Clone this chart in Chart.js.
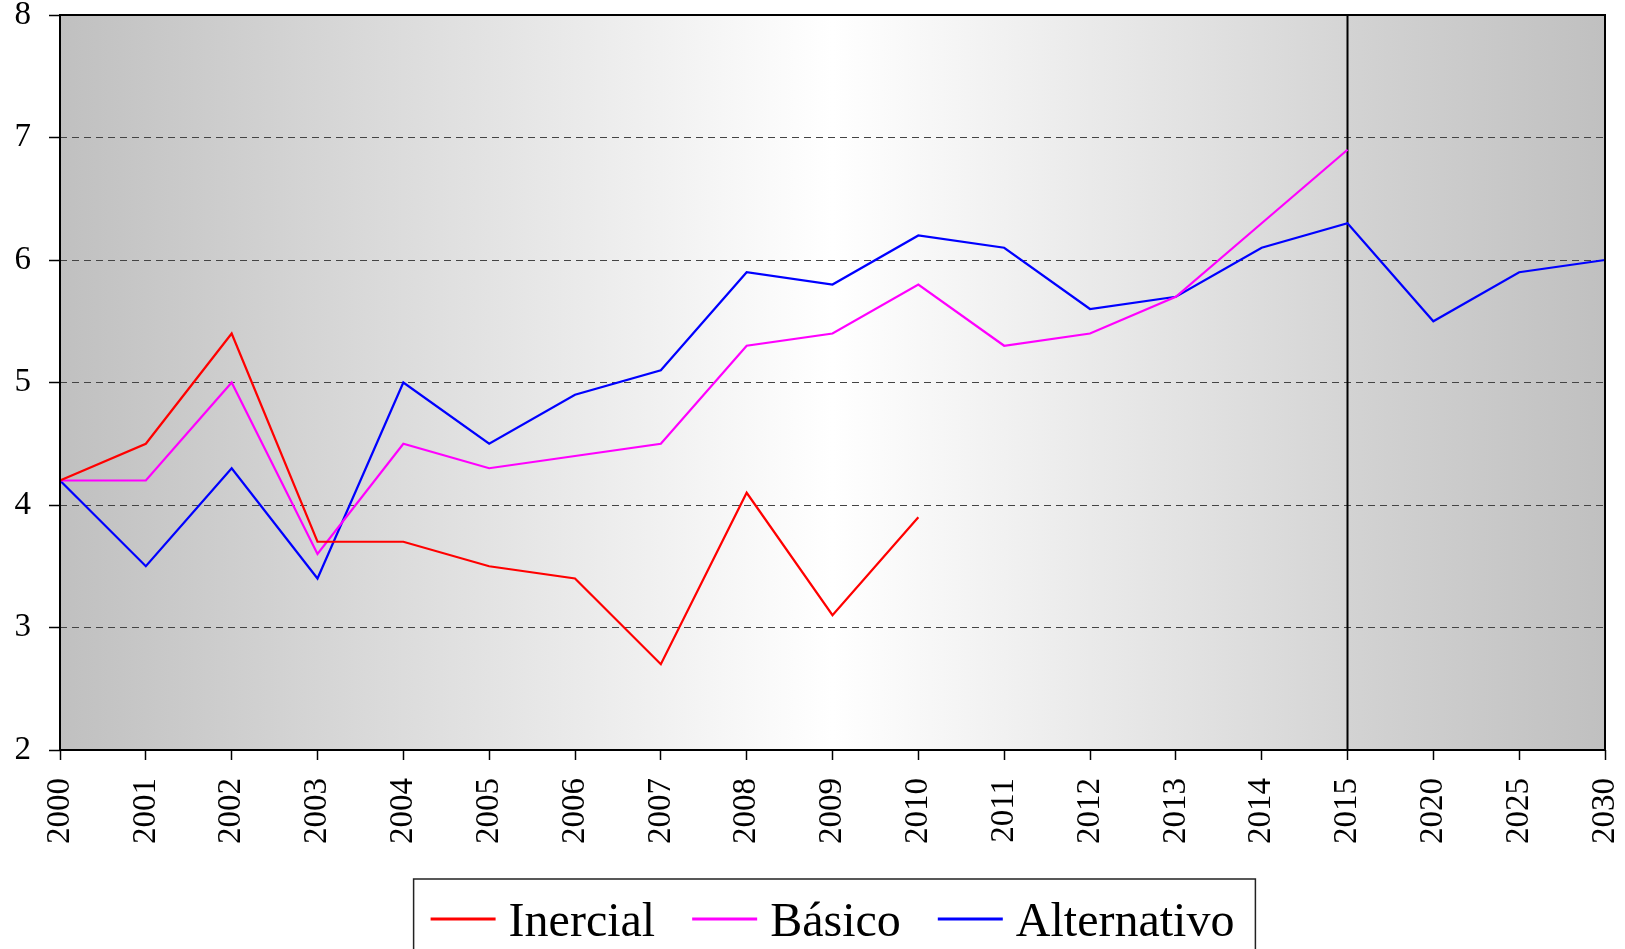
<!DOCTYPE html>
<html>
<head>
<meta charset="utf-8">
<script src="https://cdn.jsdelivr.net/npm/chart.js@4.4.0/dist/chart.umd.min.js"></script>
<style>
  html, body { margin: 0; padding: 0; background: #fff; }
  #wrap { width: 1625px; height: 949px; }
</style>
</head>
<body>
<div id="wrap"><canvas id="myChart" width="1625" height="949"></canvas></div>
<script>
let years = ["2000", "2001", "2002", "2003", "2004", "2005", "2006", "2007", "2008", "2009",
    "2010", "2011", "2012", "2013", "2014", "2015", "2020", "2025", "2030"];
let inercial = [4.2, 4.5, 5.4, 3.7, 3.7, 3.5, 3.4, 2.7, 4.1, 3.1, 3.9,
    null, null, null, null, null, null, null, null];
let basico = [4.2, 4.2, 5.0, 3.6, 4.5, 4.3, 4.4, 4.5, 5.3, 5.4, 5.8,
    5.3, 5.4, 5.7, 6.3, 6.9, null, null, null];
let alternativo = [4.2, 3.5, 4.3, 3.4, 5.0, 4.5, 4.9, 5.1, 5.9, 5.8, 6.2,
    6.1, 5.6, 5.7, 6.1, 6.3, 5.5, 5.9, 6.0];
let y_ticks = [2, 3, 4, 5, 6, 7, 8];

const serif = "'Liberation Serif', 'DejaVu Serif', serif";

// gradient background, the 2015 separator, the frame and the boxed legend
const plotDecor = {
    id: "plotDecor",
    beforeDraw(chart) {
        const { ctx, chartArea: a, scales } = chart;
        const x15 = scales.x.getPixelForValue(years.indexOf("2015"));
        ctx.save();
        let g = ctx.createLinearGradient(a.left, 0, a.right, 0);
        g.addColorStop(0, "#c0c0c0");
        g.addColorStop(0.5, "#ffffff");
        g.addColorStop(1, "#c0c0c0");
        ctx.fillStyle = g;
        ctx.fillRect(a.left, a.top, a.right - a.left, a.bottom - a.top);
        let g2 = ctx.createLinearGradient(x15, 0, a.right, 0);
        g2.addColorStop(0, "#d3d3d3");
        g2.addColorStop(1, "#c0c0c0");
        ctx.fillStyle = g2;
        ctx.fillRect(x15, a.top, a.right - x15, a.bottom - a.top);
        ctx.restore();
    },
    beforeDatasetsDraw(chart) {
        const { ctx, chartArea: a, scales } = chart;
        const x15 = scales.x.getPixelForValue(years.indexOf("2015"));
        ctx.save();
        ctx.strokeStyle = "#000";
        ctx.lineWidth = 2;
        ctx.beginPath();
        ctx.moveTo(x15, a.top);
        ctx.lineTo(x15, a.bottom);
        ctx.stroke();
        ctx.restore();
    },
    afterDraw(chart) {
        const { ctx, chartArea: a } = chart;
        ctx.save();
        ctx.strokeStyle = "#000";
        ctx.lineWidth = 2;
        ctx.strokeRect(a.left, a.top, a.right - a.left, a.bottom - a.top);

        // legend
        ctx.font = "48px " + serif;
        const sets = chart.data.datasets;
        const lineLen = 65, lineGap = 13, itemGap = 37;
        const widths = sets.map(d => ctx.measureText(d.label).width);
        const total = widths.reduce((s, w) => s + w + lineLen + lineGap, 0) + itemGap * (sets.length - 1);
        let x = (a.left + a.right) / 2 - total / 2;
        const lineY = 919, baseY = 936;
        ctx.lineWidth = 1.5;
        ctx.strokeStyle = "#222";
        ctx.strokeRect(x - 17, 879, total + 38, 100);
        sets.forEach((d, i) => {
            ctx.strokeStyle = d.borderColor;
            ctx.lineWidth = 3;
            ctx.beginPath();
            ctx.moveTo(x, lineY);
            ctx.lineTo(x + lineLen, lineY);
            ctx.stroke();
            ctx.fillStyle = "#000";
            ctx.textBaseline = "alphabetic";
            ctx.textAlign = "left";
            ctx.fillText(d.label, x + lineLen + lineGap, baseY);
            x += lineLen + lineGap + widths[i] + itemGap;
        });
        ctx.restore();
    }
};

new Chart(document.getElementById("myChart").getContext("2d"), {
    type: "line",
    data: {
        labels: years,
        datasets: [{
            label: "Inercial",
            data: inercial,
            borderColor: "#ff0000",
            backgroundColor: "#ff0000",
            borderWidth: 2.2
        },
        {
            label: "Básico",
            data: basico,
            borderColor: "#ff00ff",
            backgroundColor: "#ff00ff",
            borderWidth: 2.2
        },
        {
            label: "Alternativo",
            data: alternativo,
            borderColor: "#0000ff",
            backgroundColor: "#0000ff",
            borderWidth: 2.2
        }]
    },
    options: {
        responsive: false,
        animation: false,
        spanGaps: false,
        elements: {
            point: { radius: 0, hoverRadius: 0 },
            line: { tension: 0 }
        },
        layout: { padding: { top: 15, right: 20, left: 0, bottom: 94 } },
        plugins: {
            tooltip: { enabled: false },
            legend: { display: false }
        },
        scales: {
            x: {
                type: "category",
                offset: false,
                grid: {
                    drawOnChartArea: false,
                    drawTicks: true,
                    tickLength: 10,
                    tickColor: "#000",
                    tickWidth: 1.5
                },
                border: { display: false },
                ticks: {
                    autoSkip: false,
                    minRotation: 90,
                    maxRotation: 90,
                    padding: 18,
                    color: "#000",
                    font: { family: serif, size: 33 }
                },
                afterFit: (scale) => {
                    scale.height = 105;
                    scale.paddingLeft = 0;
                    scale.paddingRight = 0;
                }
            },
            y: {
                min: 2,
                max: 8,
                afterBuildTicks: (scale) => { scale.ticks = y_ticks.map(v => ({ value: v })); },
                grid: {
                    drawTicks: true,
                    tickLength: 11,
                    tickColor: "#000",
                    tickWidth: 1.5,
                    tickBorderDash: [],
                    lineWidth: 1,
                    color: (c) => (c.tick && (c.tick.value === 2 || c.tick.value === 8)) ? "rgba(0,0,0,0)" : "#444"
                },
                border: { display: false, dash: [7, 5] },
                ticks: {
                    padding: 18,
                    color: "#000",
                    font: { family: serif, size: 33 }
                },
                afterFit: (scale) => {
                    scale.width = 60;
                    scale.paddingTop = 0;
                    scale.paddingBottom = 0;
                }
            }
        }
    },
    plugins: [plotDecor]
});
</script>
</body>
</html>
